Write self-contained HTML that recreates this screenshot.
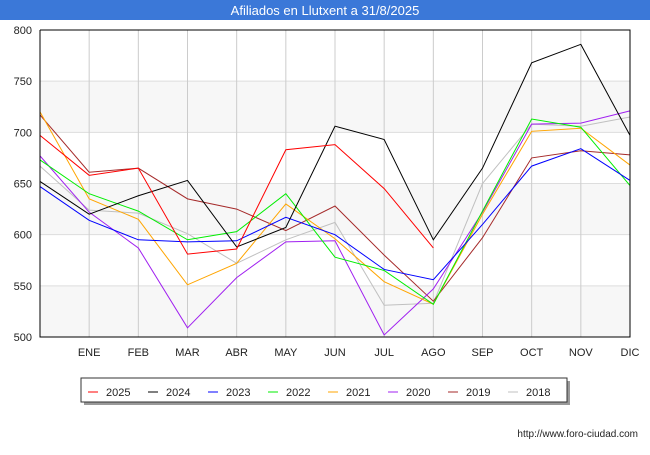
<!DOCTYPE html>
<html><head><meta charset="utf-8"><style>
body{margin:0;width:650px;height:450px;background:#fff;font-family:"Liberation Sans",sans-serif;overflow:hidden}
</style></head><body>
<svg width="650" height="450" font-family="Liberation Sans, sans-serif">
<rect x="0" y="0" width="650" height="20" fill="#3b78d8"/>
<text x="325" y="15" fill="#fff" font-size="13" text-anchor="middle">Afiliados en Llutxent a 31/8/2025</text>
<g id="plot"></g>
<rect x="84" y="381" width="486" height="24" fill="#999"/>
<rect x="81" y="378" width="486" height="24" fill="#fff" stroke="#333"/>
<g id="legend"></g>
<text x="638" y="437" font-size="10" text-anchor="end" fill="#222">http://www.foro-ciudad.com</text>
</svg>
<script>
const months=["","ENE","FEB","MAR","ABR","MAY","JUN","JUL","AGO","SEP","OCT","NOV","DIC"];
const yTicks=[500,550,600,650,700,750,800];
const seriesNames=["2025","2024","2023","2022","2021","2020","2019","2018"];
const seriesColors=["#ff0000","#000000","#0000ff","#00ee00","#ffa500","#a020f0","#a52a2a","#c0c0c0"];
const s2025=[697,658,665,581,586,683,688,645,587];
const s2024=[652,620,638,653,588,607,706,693,595,665,768,786,697];
const s2023=[647,614,595,593,594,617,600,566,556,610,667,684,653];
const s2022=[673,640,623,595,603,640,578,565,532,623,713,705,648];
const s2021=[720,635,615,551,572,630,596,554,532,620,701,704,668];
const s2020=[677,622,587,509,558,593,594,502,547,622,708,709,721];
const s2019=[717,661,665,635,625,604,628,580,535,597,675,682,678];
const s2018=[667,624,621,601,572,595,612,531,533,650,708,706,715];
const allSeries=[s2025,s2024,s2023,s2022,s2021,s2020,s2019,s2018];
const NS="http://www.w3.org/2000/svg";
const L=40,R=630,T=30,B=337;
const xS=i=>L+i*(R-L)/12;
const yS=v=>B-(v-500)*(B-T)/300;
const plot=document.getElementById('plot');
function mk(t,a,p){const e=document.createElementNS(NS,t);for(const k in a)e.setAttribute(k,a[k]);(p||plot).appendChild(e);return e;}
for(let i=0;i<6;i++){if(i%2==0){const r=mk('rect',{x:L,y:yS(yTicks[i+1]),width:R-L,height:yS(yTicks[i])-yS(yTicks[i+1]),fill:'#f7f7f7'});

}}
yTicks.forEach(v=>{const l=mk('line',{x1:L,x2:R,y1:yS(v),y2:yS(v),stroke:'#ddd'});


const t=mk('text',{x:L-8,y:yS(v)+4,'font-size':11,'text-anchor':'end',fill:'#222'});t.textContent=v;

});
months.forEach((m,i)=>{if(i>0){const l=mk('line',{x1:xS(i),x2:xS(i),y1:T,y2:B,stroke:'#ccc'});


const t=mk('text',{x:xS(i),y:356,'font-size':11,'text-anchor':'middle',fill:'#222'});t.textContent=m;

}});
for(let s=allSeries.length-1;s>=0;s--){const d=allSeries[s].map((v,i)=>xS(i)+','+yS(v)).join(' ');
const p=mk('polyline',{points:d,fill:'none',stroke:seriesColors[s],'stroke-width':1});

}
const ax=mk('path',{d:`M${L},${T}V${B}H${R}V${T}H${L}`,fill:'none',stroke:'#000'});


const lg=document.getElementById('legend');
seriesNames.forEach((n,i)=>{const x=88+i*60;
const l=mk('line',{x1:x,x2:x+10,y1:392,y2:392,stroke:seriesColors[i]},lg);


const t=mk('text',{x:x+18,y:396,'font-size':11,fill:'#222'},lg);t.textContent=n;

});
</script>
</body></html>
